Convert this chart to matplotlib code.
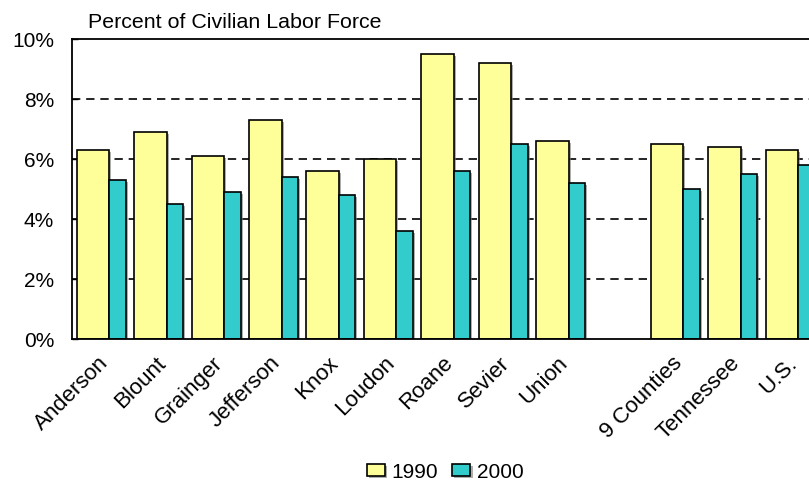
import numpy as np
import matplotlib
matplotlib.use("Agg")
import matplotlib.pyplot as plt
import matplotlib.patheffects as pe
from matplotlib.transforms import ScaledTranslation

# data
categories = ["Anderson", "Blount", "Grainger", "Jefferson", "Knox", "Loudon",
              "Roane", "Sevier", "Union", "9 Counties", "Tennessee", "U.S."]
slots = [0, 1, 2, 3, 4, 5, 6, 7, 8, 10, 11, 12]  # empty slot between Union and 9 Counties
rate_1990 = [6.3, 6.9, 6.1, 7.3, 5.6, 6.0, 9.5, 9.2, 6.6, 6.5, 6.4, 6.3]
rate_2000 = [5.3, 4.5, 4.9, 5.4, 4.8, 3.6, 5.6, 6.5, 5.2, 5.0, 5.5, 5.8]
yticks = [0, 2, 4, 6, 8, 10]

YELLOW = "#FFFF99"
TEAL = "#33CCCC"

plt.rcParams['font.family'] = ['Liberation Sans', 'DejaVu Sans']

W, H = 809, 484
fig = plt.figure(figsize=(W / 100, H / 100), dpi=100)
# axes extends a bit past the right edge of the picture (cropped like the original)
left, right, top, bottom = 72.3, 818.5, 39.3, 339.3
ax = fig.add_axes([left / W, 1 - bottom / H, (right - left) / W, (bottom - top) / H])

x = np.array(slots, dtype=float)
shadow = [pe.SimplePatchShadow(offset=(1.5, -1.5), shadow_rgbFace='#777777', alpha=0.6), pe.Normal()]
b1 = ax.bar(x - 0.423, rate_1990, width=0.568, align='edge', color=YELLOW,
            edgecolor='black', linewidth=1.2, label='1990', zorder=2)
b2 = ax.bar(x + 0.145, rate_2000, width=0.287, align='edge', color=TEAL,
            edgecolor='black', linewidth=1.2, label='2000', zorder=2)
for p in list(b1) + list(b2):
    p.set_path_effects(shadow)

ax.set_xlim(-0.5, 12.5)
ax.set_ylim(0, 10)
ax.set_yticks(yticks)
ax.set_yticklabels([f"{v}%" for v in yticks], fontsize=15)
for v in yticks[1:-1]:
    ax.axhline(v, color='black', linewidth=1.2, dashes=(5, 3.5), zorder=1)

ax.set_xticks(slots)
ax.set_xticklabels(categories, fontsize=16, rotation=45, ha='right', va='center',
                   rotation_mode='anchor')
ax.tick_params(axis='x', length=0, pad=15)
ax.tick_params(axis='y', direction='in', length=4, width=1, pad=13)
for lbl in ax.get_xticklabels():
    lbl.set_transform(lbl.get_transform() + ScaledTranslation(4 / 100, 0, fig.dpi_scale_trans))

for s in ['left', 'top', 'bottom', 'right']:
    ax.spines[s].set_linewidth(1.3)

fig.text(88 / W, 1 - 27.7 / H, "Percent of Civilian Labor Force", fontsize=15.4,
         ha='left', va='baseline')

fig.legend(handles=[b1, b2], labels=['1990', '2000'], loc='center',
           bbox_to_anchor=(445 / W, 1 - 472 / H), ncol=2, frameon=False,
           fontsize=15, handlelength=0.9, handleheight=0.5, handletextpad=0.3,
           columnspacing=0.65, borderpad=0)

fig.savefig("out.png", dpi=100)
